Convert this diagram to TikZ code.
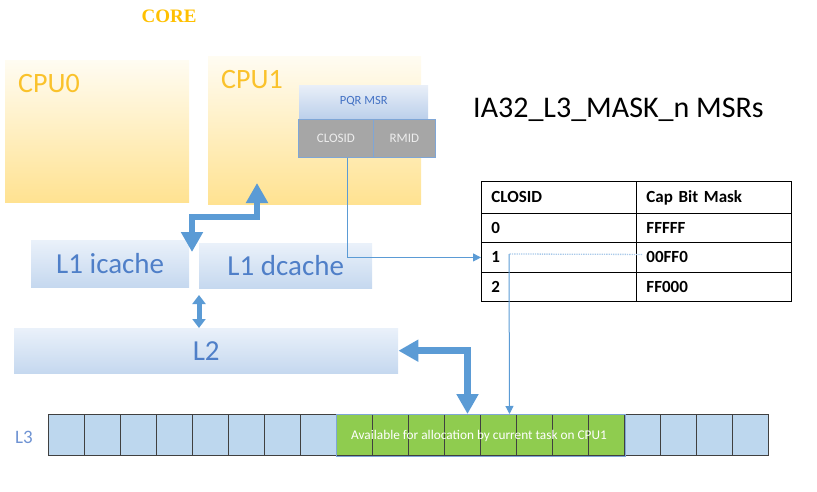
\documentclass[tikz,border=0pt]{standalone}
\usepackage{fontspec}
\setmainfont{Carlito}
\newfontfamily\timesfont{Liberation Serif}
\usetikzlibrary{arrows.meta}
\definecolor{gold}{HTML}{FFC000}
\definecolor{cpulabel}{HTML}{FAC22B}
\definecolor{cputop}{HTML}{FFFCF2}
\definecolor{cpubot}{HTML}{FFE291}
\definecolor{cachetop}{HTML}{EAF1FA}
\definecolor{cachebot}{HTML}{C5D8EF}
\definecolor{cachetext}{HTML}{4F7FC8}
\definecolor{arrowblue}{HTML}{5B9BD5}
\definecolor{pqrtop}{HTML}{E9EFF8}
\definecolor{pqrbot}{HTML}{BCD0EB}
\definecolor{pqrtext}{HTML}{4472C4}
\definecolor{msrgray}{HTML}{A6A6A6}
\definecolor{msrborder}{HTML}{7FA6D6}
\definecolor{msrtext}{HTML}{EDEDED}
\definecolor{cellblue}{HTML}{BDD7EE}
\definecolor{cellgreen}{HTML}{8FCC4F}
\definecolor{dotblue}{HTML}{A9C9E9}
\definecolor{l3label}{HTML}{6F93D3}
\tikzset{
  box/.style={rectangle, inner sep=0pt, anchor=north west},
  cpubox/.style={box, top color=cputop, bottom color=cpubot},
  cpulbl/.style={anchor=west, inner sep=0pt, text=cpulabel, font=\fontsize{28}{30}\selectfont},
  cachebox/.style={box, top color=cachetop, bottom color=cachebot, text=cachetext, font=\fontsize{29}{32}\selectfont},
  pqrbox/.style={box, top color=pqrtop, bottom color=pqrbot, text=pqrtext, font=\fontsize{12.5}{14}\selectfont},
  msrbox/.style={box, fill=msrgray, draw=msrborder, line width=0.8pt, text=msrtext, font=\fontsize{13}{15}\selectfont},
  tcell/.style={box, draw=black, line width=0.9pt, align=left, inner xsep=10pt, text width=135pt, minimum width=155pt, font=\bfseries\fontsize{17}{19}\selectfont},
  l3cell/.style={box, draw=black!75, line width=1pt, minimum width=36pt, minimum height=41pt},
  fat/.style={draw=arrowblue, line width=6.5pt, line join=miter},
  bigtip/.style={arrows={Triangle[width=21pt,length=20pt]-Triangle[width=21pt,length=20pt]}},
  medarrow/.style={draw=arrowblue, line width=5pt, arrows={Triangle[width=13pt,length=9pt]-Triangle[width=13pt,length=9pt]}},
  thinarrow/.style={draw=arrowblue, line width=1pt, -{Triangle[width=8pt,length=8pt]}}
}
\begin{document}
\begin{tikzpicture}[x=1pt,y=-1pt]
\useasboundingbox (0,0) rectangle (817,492);
% title and core label
\node[text=gold, font=\timesfont\bfseries\fontsize{19}{21}\selectfont] (core) at (169,16) {CORE};
\node[anchor=west, inner sep=0pt, font=\fontsize{30}{33}\selectfont] (title) at (473,110) {IA32\_L3\_MASK\_n MSRs};
% CPUs
\node[cpubox, minimum width=184pt, minimum height=142pt] (cpu0) at (5,60) {};
\node[cpulbl] (cpu0lbl) at (18,84) {CPU0};
\node[cpubox, minimum width=213pt, minimum height=148pt] (cpu1) at (208,56) {};
\node[cpulbl] (cpu1lbl) at (221,80) {CPU1};
% PQR MSR
\node[pqrbox, minimum width=129pt, minimum height=33pt] (pqr) at (299,85) {PQR MSR};
\node[msrbox, minimum width=75pt, minimum height=38pt] (closid) at (298,119) {CLOSID};
\node[msrbox, minimum width=62pt, minimum height=38pt] (rmid) at (373,119) {RMID};
% caches
\node[cachebox, minimum width=158pt, minimum height=47pt] (l1i) at (31,240) {L1 icache};
\node[cachebox, minimum width=173pt, minimum height=45pt] (l1d) at (199,243) {L1 dcache};
\node[cachebox, minimum width=384pt, minimum height=45pt] (l2) at (14,328) {L2};
% table
\node[tcell, minimum height=32pt] (h1) at (481,181) {CLOSID};
\node[tcell, minimum height=32pt] (h2) at (636,181) {Cap Bit Mask};
\node[tcell, minimum height=29pt] (r0a) at (481,213) {0};
\node[tcell, minimum height=29pt] (r0b) at (636,213) {FFFFF};
\node[tcell, minimum height=30pt] (r1a) at (481,242) {1};
\node[tcell, minimum height=30pt] (r1b) at (636,242) {00FF0};
\node[tcell, minimum height=29pt] (r2a) at (481,272) {2};
\node[tcell, minimum height=29pt] (r2b) at (636,272) {FF000};
% L3
\node[text=l3label, font=\fontsize{19}{21}\selectfont] (l3lbl) at (24,437) {L3};
\foreach \i in {0,...,19}{
  \pgfmathsetmacro{\xx}{48+36*\i}
  \ifnum\i<8
    \node[l3cell, fill=cellblue] (c\i) at (\xx,414) {};
  \else\ifnum\i<16
    \node[l3cell, fill=cellgreen] (c\i) at (\xx,414) {};
  \else
    \node[l3cell, fill=cellblue] (c\i) at (\xx,414) {};
  \fi\fi
}
\draw[msrborder, line width=1pt] (c8.north west) rectangle (c15.south east);
\node[text=white, font=\fontsize{13.3}{15}\selectfont] (avail) at (479,436) {Available for allocation by current task on CPU1};
% big arrows
\coordinate (cputip) at (257,183);
\coordinate (l1tip) at (192,252);
\draw[fat, bigtip] (cputip) -- (257,217) -| (l1tip);
\draw[fat, bigtip] (l2.east) -| ([xshift=5pt]c11.north);
\coordinate (dtop) at (199,295);
\draw[medarrow] (dtop) -- (dtop |- l2.north);
% thin connectors
\draw[thinarrow] ([xshift=11.5pt]closid.south) |- (r1a.west);
\coordinate (bend) at (509,254);
\draw[dotblue, line width=1.3pt, densely dotted] ([xshift=6pt,yshift=3pt]r1b.west) -- (bend);
\draw[thinarrow] (bend) -- ([xshift=11pt]c12.north);
\end{tikzpicture}
\end{document}
